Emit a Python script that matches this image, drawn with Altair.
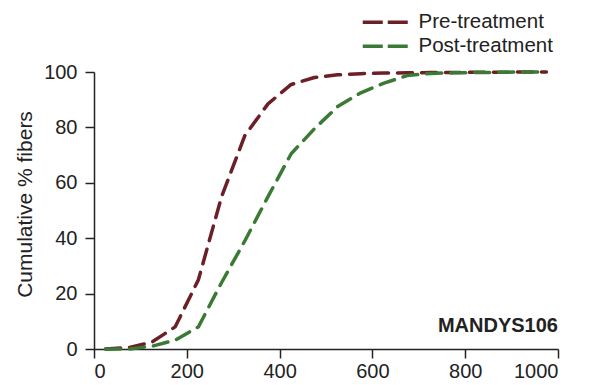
import altair as alt
import pandas as pd

# Pre-treatment cumulative curve
pre_x = [25, 75, 125, 175, 225, 275, 325, 375, 425, 475, 525, 575, 625, 675, 725, 775, 825, 875, 925, 975]
pre_y = [0, 0.5, 2.5, 8, 25, 55, 77, 88.5, 95.5, 98, 99, 99.4, 99.6, 99.7, 99.8, 99.8, 99.9, 99.9, 100, 100]

# Post-treatment cumulative curve
post_x = [25, 75, 125, 175, 225, 275, 325, 375, 425, 475, 525, 575, 625, 675, 725, 775, 825, 875, 925, 965]
post_y = [0, 0, 1, 3.2, 8, 24, 39, 55, 70.5, 79.5, 87.5, 92.5, 96, 98.7, 99.5, 99.7, 99.8, 99.9, 100, 100]

series_names = ["Pre-treatment", "Post-treatment"]
series_colors = ["#6B1F26", "#3B7A35"]

x_ticks = [0, 200, 400, 600, 800, 1000]
y_ticks = [0, 20, 40, 60, 80, 100]

label_text = "MANDYS106"

df = pd.concat([
    pd.DataFrame({"size": pre_x, "pct": pre_y, "series": series_names[0], "order": range(len(pre_x))}),
    pd.DataFrame({"size": post_x, "pct": post_y, "series": series_names[1], "order": range(len(post_x))}),
])

FONT = "Liberation Sans"

lines = alt.Chart(df).mark_line(
    strokeWidth=3.5, strokeDash=[15, 9], strokeCap="round", strokeJoin="round"
).encode(
    x=alt.X("size:Q", scale=alt.Scale(domain=[0, 1000], nice=False),
            axis=alt.Axis(values=x_ticks, title=None, labelPadding=3, format="d")),
    y=alt.Y("pct:Q", scale=alt.Scale(domain=[0, 100], nice=False),
            axis=alt.Axis(values=y_ticks, title="Cumulative % fibers", labelPadding=8, format="d",
                          titleX=-69, titleY=132, titleBaseline="middle",
                          titleFontSize=21, titleFontWeight="normal")),
    color=alt.Color("series:N", scale=alt.Scale(domain=series_names, range=series_colors),
                    legend=alt.Legend(title=None, orient="none", legendX=281, legendY=-60,
                                      symbolType="M-3,0H3", symbolSize=225,
                                      symbolStrokeWidth=3.5, symbolDash=[20, 5],
                                      labelFontSize=20.5, labelOffset=23, rowPadding=3,
                                      padding=0, labelColor="#222", labelFont=FONT)),
    order="order:Q",
)

txt = alt.Chart(pd.DataFrame({"x": [1000], "y": [6], "t": [label_text]})).mark_text(
    align="right", baseline="alphabetic", fontSize=20, fontWeight="bold", font=FONT, color="#222"
).encode(x="x:Q", y="y:Q", text="t:N")

chart = alt.layer(lines, txt).properties(
    width=464, height=277,
    autosize=alt.AutoSizeParams(type="none"),
    padding={"left": 86, "top": 64, "right": 26, "bottom": 35},
).configure_view(stroke=None).configure_axis(
    domainColor="#222", domainWidth=1.5, tickColor="#222", tickWidth=1.5, tickSize=9,
    labelFontSize=20, labelColor="#222", labelFont=FONT, titleFont=FONT, titleColor="#222",
    grid=False,
)

chart.save("out.html", embed_options={"renderer": "svg", "actions": False})
